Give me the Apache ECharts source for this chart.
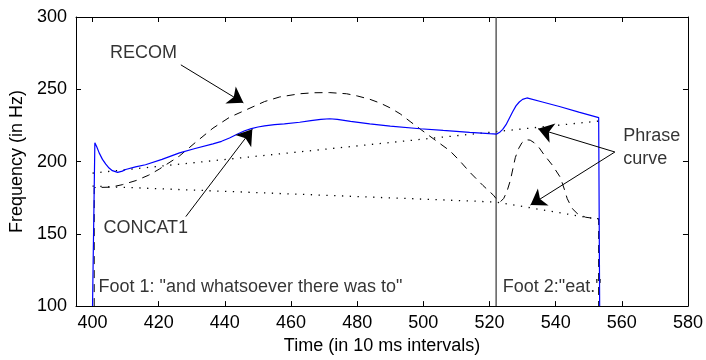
<!DOCTYPE html>
<html>
<head>
<meta charset="utf-8">
<script src="https://cdn.jsdelivr.net/npm/echarts@6/dist/echarts.min.js"></script>
<style>
  html, body { margin: 0; padding: 0; background: #fff; }
  #chart { width: 706px; height: 360px; }
</style>
</head>
<body>
<div id="chart"></div>
<script>
// tick values
const xTicks = [400, 420, 440, 460, 480, 500, 520, 540, 560, 580];
const yTicks = [100, 150, 200, 250, 300];

// CONCAT1 (blue solid)
const concat1 = [
  [400, 100], [400.7, 213], [401.3, 210], [402, 206], [403, 201.5], [404, 198.2],
  [405, 195.5], [406, 193.7], [407.6, 192.5], [409, 193.4], [410, 194.5], [413, 196.3],
  [416, 197.8], [421, 201.5], [426.3, 206], [431, 209], [436.4, 212.2], [439, 214],
  [441.4, 216.3], [444, 219.2], [446, 221.3], [448, 222.8], [450, 223.9], [452, 224.7],
  [455, 225.5], [458, 226.1], [462.6, 227.2], [466, 228.3], [469, 229.2], [471.7, 229.6],
  [474, 229.2], [478, 227.8], [483.8, 226], [490, 224.5], [499, 222.7], [506, 221.5],
  [514, 220.2], [520, 219.3], [522.2, 219], [523.2, 220.5], [524, 222.3], [525, 225.5],
  [526, 230], [527, 234.5], [528, 238.5], [529, 241.2], [530, 243], [531.3, 244],
  [536, 241.2], [541.4, 237.9], [547, 234.2], [553, 230.4], [553.3, 100]
];

// RECOM (black dashed)
const recom = [
  [400.5, 100], [400.5, 182], [405.6, 182.3], [409, 184], [413.2, 186.9], [417, 190.6],
  [420.2, 194.8], [426.3, 203.9], [431, 213], [436.4, 223.1], [441.4, 230.6],
  [448.5, 237.9], [452, 241.5], [456.6, 244.7], [462.6, 246.9], [467, 247.6], [471.7, 247.7],
  [476.8, 246.9], [480, 245.4], [483.8, 243.1], [487, 240.4], [489.9, 237.2], [493, 233],
  [496, 227.7], [502, 217.5], [508.1, 207.3], [511, 200.5], [514.1, 192.5], [518, 183.5],
  [521.2, 176.7], [522.4, 173.2], [523.3, 172.2], [524.3, 174.5], [525.3, 179.5],
  [526.3, 186.9], [527.8, 202.7], [528.8, 209], [529.8, 213], [531, 215.1], [532.3, 214.8],
  [533.5, 213], [535, 209.6], [536.4, 205], [539, 197.5], [541.4, 189.1], [542.6, 181],
  [543.5, 174.3], [545, 167.5], [546.5, 164.1], [549, 161.5], [551.5, 160.7], [553, 160.5],
  [553, 100]
];

// phrase curves (dotted)
const phraseUpper = [[400, 192], [553, 228]];
const phraseLower = [[400, 183], [522, 172], [553, 160]];

// foot boundary
const footBoundary = [[522, 100], [522, 300]];

// text labels
const labelX = [405.3, 403.3, 401.8, 524, 560.4, 560.4];
const labelY = [274.8, 153.9, 113.1, 113.1, 217.5, 202];
const labelText = ['RECOM', 'CONCAT1', 'Foot 1: "and whatsoever there was to"', 'Foot 2:"eat."', 'Phrase', 'curve'];

// arrows: [fromX, fromY, toX, toY]
const arrows = [
  [426.7, 266.9, 445.6, 240.6],
  [428.2, 161.9, 448.3, 222.4],
  [557.9, 206.6, 534.7, 222.7],
  [557.9, 206.6, 532.4, 169.9]
];

const font = 'Liberation Sans, Arial, sans-serif';
const fs = 18;

const chart = echarts.init(document.getElementById('chart'));

const xBase = {
  type: 'value',
  min: 395,
  max: 580,
  splitLine: { show: false },
  axisLine: { show: true, onZero: false, lineStyle: { color: '#000', width: 1 } },
  axisTick: { show: true, inside: true, length: 5, customValues: xTicks, lineStyle: { color: '#000' } }
};
const yBase = {
  type: 'value',
  min: 100,
  max: 300,
  interval: 50,
  splitLine: { show: false },
  axisLine: { show: true, onZero: false, lineStyle: { color: '#000', width: 1 } },
  axisTick: { show: true, inside: true, length: 5, lineStyle: { color: '#000' } }
};

const option = {
  animation: false,
  grid: { left: 76, top: 17, right: 17, bottom: 49, containLabel: false },
  xAxis: [
    Object.assign({}, xBase, {
      position: 'bottom',
      name: 'Time (in 10 ms intervals)',
      nameLocation: 'middle',
      nameGap: 30,
      nameTextStyle: { color: '#000', fontSize: fs, fontFamily: font },
      axisLabel: { customValues: xTicks, color: '#000', fontSize: fs, fontFamily: font, margin: 8 }
    }),
    Object.assign({}, xBase, {
      position: 'top',
      axisLabel: { show: false, customValues: xTicks }
    })
  ],
  yAxis: [
    Object.assign({}, yBase, {
      position: 'left',
      name: 'Frequency (in Hz)',
      nameLocation: 'middle',
      nameGap: 50,
      nameRotate: 90,
      nameTextStyle: { color: '#000', fontSize: fs, fontFamily: font },
      axisLabel: { color: '#000', fontSize: fs, fontFamily: font, margin: 9 }
    }),
    Object.assign({}, yBase, { position: 'right', axisLabel: { show: false } })
  ],
  series: [
    {
      name: 'phrase upper', type: 'line', data: phraseUpper, showSymbol: false,
      lineStyle: { color: '#000', width: 1.3, type: [1.3, 6.5] }
    },
    {
      name: 'phrase lower', type: 'line', data: phraseLower, showSymbol: false,
      lineStyle: { color: '#000', width: 1.3, type: [1.3, 6.5] }
    },
    {
      name: 'foot', type: 'line', data: footBoundary, showSymbol: false,
      lineStyle: { color: '#444', width: 1.3 }
    },
    {
      name: 'RECOM', type: 'line', data: recom, showSymbol: false,
      lineStyle: { color: '#000', width: 1, type: [8, 6] }
    },
    {
      name: 'CONCAT1', type: 'line', data: concat1, showSymbol: false,
      lineStyle: { color: '#0000ff', width: 1.2 }
    },
    {
      name: 'arrows', type: 'line', data: [], silent: true,
      markLine: {
        silent: true,
        symbol: ['none', 'arrow'],
        symbolSize: 15,
        label: { show: false },
        lineStyle: { color: '#000', width: 1, type: 'solid' },
        itemStyle: { color: '#000' },
        data: arrows.map(a => [{ coord: [a[0], a[1]] }, { coord: [a[2], a[3]] }])
      }
    },
    {
      name: 'labels', type: 'scatter', symbolSize: 0, silent: true,
      data: labelText.map((t, i) => ({ value: [labelX[i], labelY[i]], name: t })),
      label: {
        show: true, position: 'inside', align: 'left', verticalAlign: 'middle',
        formatter: p => p.name,
        color: '#000', textBorderWidth: 0, fontSize: fs, fontFamily: font
      }
    }
  ]
};
chart.setOption(option);
</script>
</body>
</html>
